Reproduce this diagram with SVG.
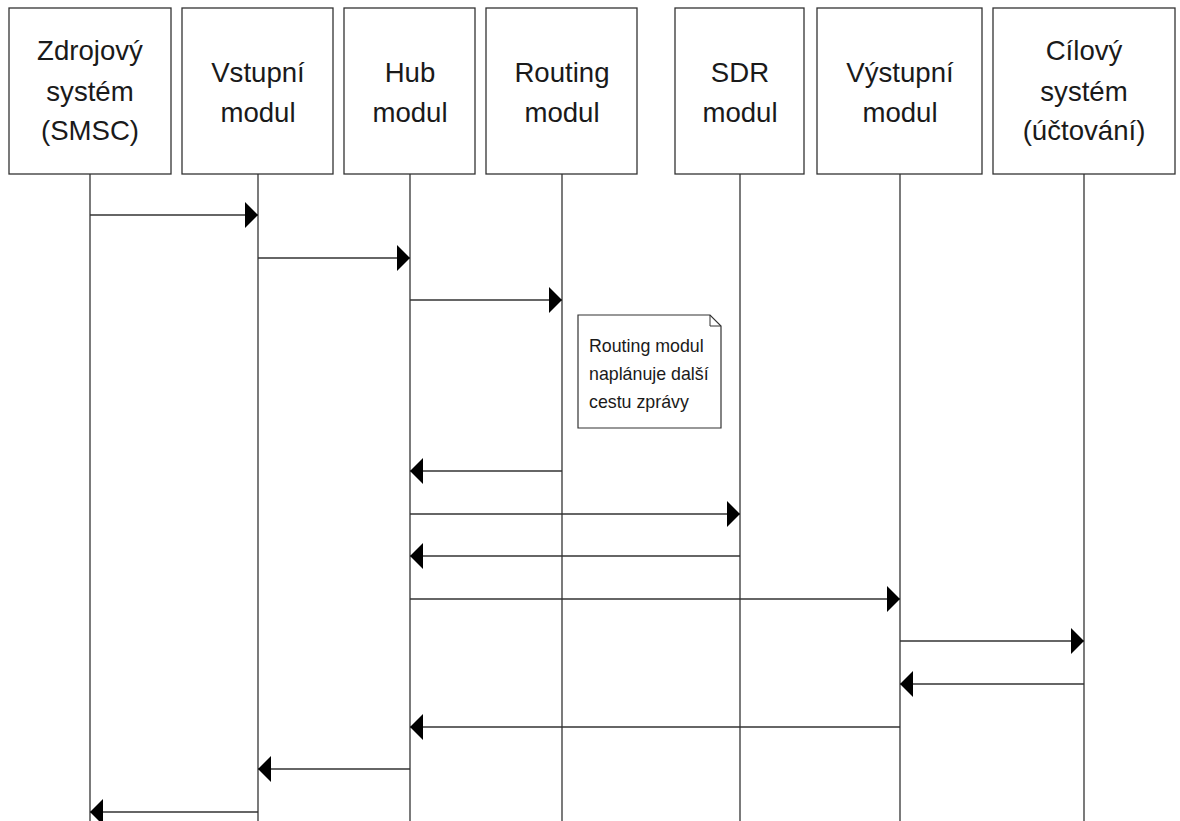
<svg xmlns="http://www.w3.org/2000/svg" width="1180" height="821" viewBox="0 0 1180 821">
<style>
.box{fill:#fff;stroke:#333;stroke-width:1.3}
.life{stroke:#333;stroke-width:1.3;fill:none}
.msg{stroke:#333;stroke-width:1.3;fill:none;marker-end:url(#arr)}
.t{font-family:"Liberation Sans",Arial,sans-serif;font-size:27.6px;fill:#1a1a1a;text-anchor:middle}
.n{font-family:"Liberation Sans",Arial,sans-serif;font-size:17.8px;fill:#1a1a1a}
</style>
<defs>
<marker id="arr" markerUnits="userSpaceOnUse" markerWidth="14" markerHeight="26" viewBox="0 0 12 24" refX="12" refY="12" orient="auto">
<path d="M0,0 L12,12 L0,24 Z" fill="#000"/>
</marker>
</defs>
<rect width="1180" height="821" fill="#fff"/>
<g id="lifelines">
<line class="life" x1="90" y1="174" x2="90" y2="821"/>
<line class="life" x1="258" y1="174" x2="258" y2="821"/>
<line class="life" x1="410" y1="174" x2="410" y2="821"/>
<line class="life" x1="562" y1="174" x2="562" y2="821"/>
<line class="life" x1="740" y1="174" x2="740" y2="821"/>
<line class="life" x1="900" y1="174" x2="900" y2="821"/>
<line class="life" x1="1084" y1="174" x2="1084" y2="821"/>
</g>
<g id="zdroj">
<rect class="box" x="9" y="8" width="162" height="166"/>
<text class="t" x="90" y="59.5">Zdrojový</text>
<text class="t" x="90" y="101">systém</text>
<text class="t" x="90" y="140">(SMSC)</text>
</g>
<g id="vstup">
<rect class="box" x="182" y="8" width="151" height="166"/>
<text class="t" x="258" y="82">Vstupní</text>
<text class="t" x="258" y="122">modul</text>
</g>
<g id="hub">
<rect class="box" x="344" y="8" width="131" height="166"/>
<text class="t" x="410" y="82">Hub</text>
<text class="t" x="410" y="122">modul</text>
</g>
<g id="routing">
<rect class="box" x="486" y="8" width="151" height="166"/>
<text class="t" x="562" y="82">Routing</text>
<text class="t" x="562" y="122">modul</text>
</g>
<g id="sdr">
<rect class="box" x="675" y="8" width="129" height="166"/>
<text class="t" x="740" y="82">SDR</text>
<text class="t" x="740" y="122">modul</text>
</g>
<g id="vystup">
<rect class="box" x="817" y="8" width="165" height="166"/>
<text class="t" x="900" y="82">Výstupní</text>
<text class="t" x="900" y="122">modul</text>
</g>
<g id="cil">
<rect class="box" x="993" y="8" width="182" height="166"/>
<text class="t" x="1084" y="59.5">Cílový</text>
<text class="t" x="1084" y="101">systém</text>
<text class="t" x="1084" y="140">(účtování)</text>
</g>
<g id="note">
<path d="M578,315 L710,315 L721,326 L721,428 L578,428 Z" fill="#fff" stroke="#333" stroke-width="1.2"/>
<path d="M710,315 L710,326 L721,326" fill="none" stroke="#333" stroke-width="1"/>
<text class="n" x="589" y="352">Routing modul</text>
<text class="n" x="589" y="380">naplánuje další</text>
<text class="n" x="589" y="408">cestu zprávy</text>
</g>
<g id="connectors">
<line class="msg" x1="90" y1="215" x2="258" y2="215"/>
<line class="msg" x1="258" y1="258" x2="410" y2="258"/>
<line class="msg" x1="410" y1="300" x2="562" y2="300"/>
<line class="msg" x1="562" y1="471" x2="410" y2="471"/>
<line class="msg" x1="410" y1="514" x2="740" y2="514"/>
<line class="msg" x1="740" y1="556" x2="410" y2="556"/>
<line class="msg" x1="410" y1="599" x2="900" y2="599"/>
<line class="msg" x1="900" y1="641" x2="1084" y2="641"/>
<line class="msg" x1="1084" y1="684" x2="900" y2="684"/>
<line class="msg" x1="900" y1="727" x2="410" y2="727"/>
<line class="msg" x1="410" y1="769" x2="258" y2="769"/>
<line class="msg" x1="258" y1="812" x2="90" y2="812"/>
</g>
</svg>
